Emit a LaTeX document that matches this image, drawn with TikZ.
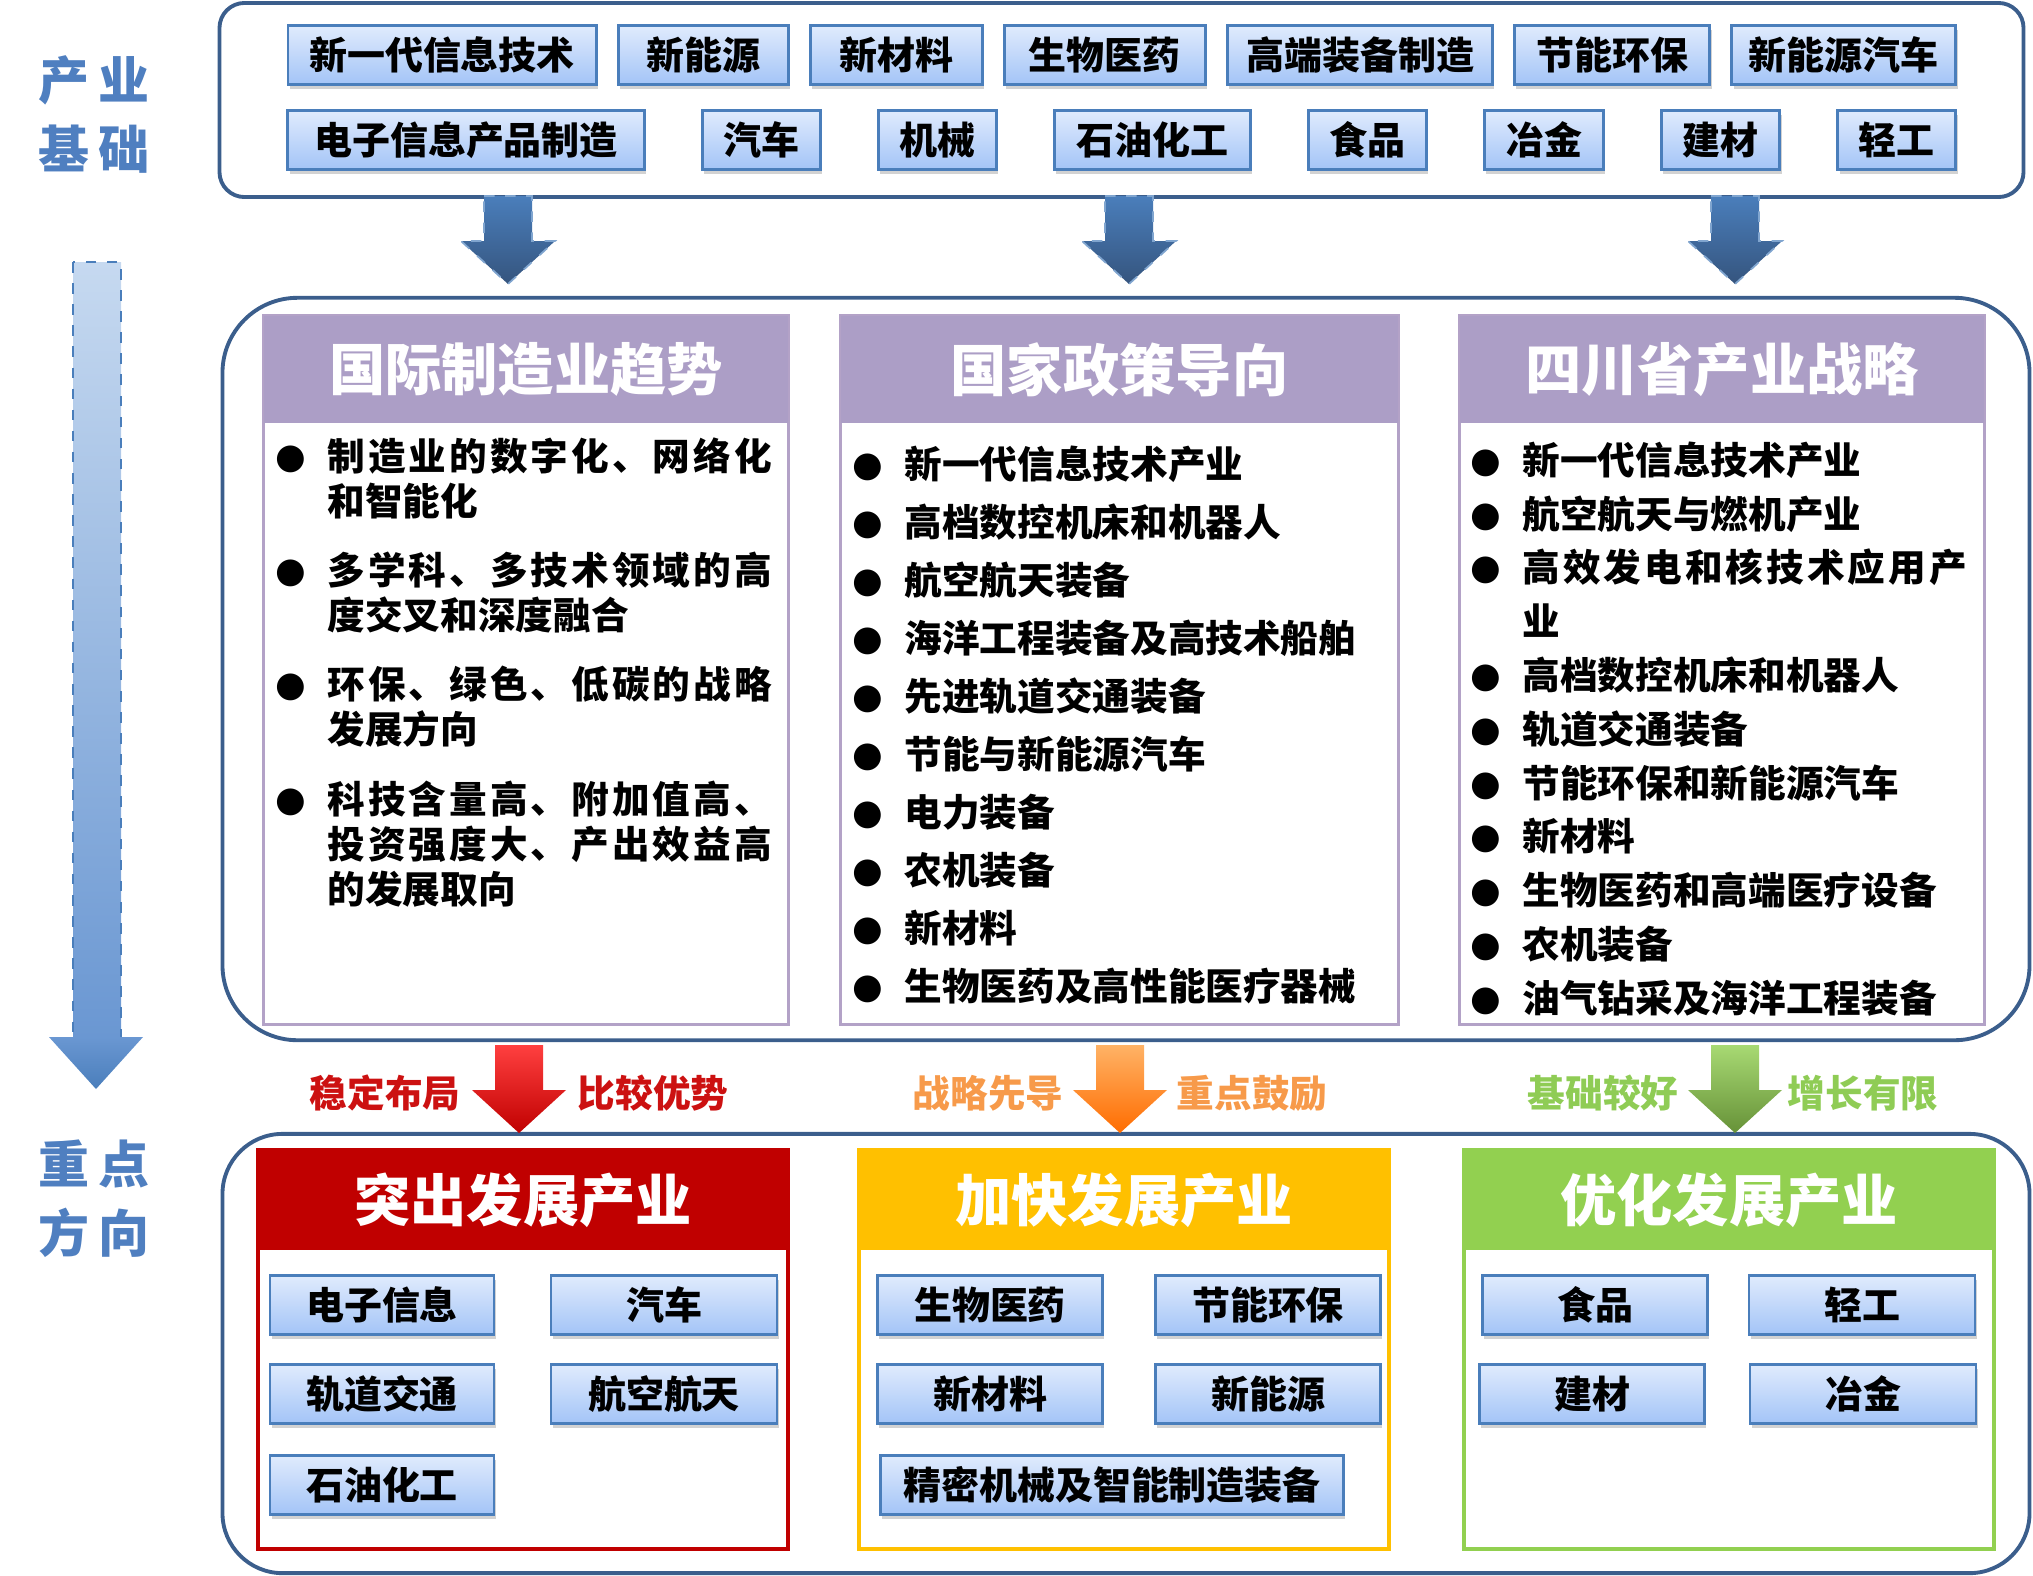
\documentclass[tikz,border=0pt]{standalone}
\usepackage{fontspec}
\usetikzlibrary{positioning, shadows}

\newfontfamily\cjk{Noto Sans CJK SC}
\newfontfamily\dejavu{DejaVu Sans}

\definecolor{frameblue}{HTML}{3B5E8C}
\definecolor{indborder}{HTML}{4A7EBB}
\definecolor{indtop}{HTML}{E0EBFD}
\definecolor{indbot}{HTML}{A3C4F7}
\definecolor{lavhead}{HTML}{AC9EC6}
\definecolor{lavline}{HTML}{B3A2C7}
\definecolor{sideblue}{HTML}{4F7FC0}
\definecolor{redhead}{HTML}{C00000}
\definecolor{goldhead}{HTML}{FFC000}
\definecolor{greenhead}{HTML}{92D050}
\definecolor{redtag}{HTML}{CC1111}
\definecolor{orangetag}{HTML}{F79A4A}
\definecolor{greentag}{HTML}{8FCC55}
\definecolor{shafttop}{HTML}{C6D9F0}
\definecolor{shaftbot}{HTML}{6A97D2}

% bullet hung left of the text, and a stretched (justified) line
\newcommand\bul{\llap{\raisebox{0.6pt}{\dejavu\fontsize{10}{10}\selectfont ●}\hspace{0.22cm}}}
\newcommand\jst[1]{{\addfontfeature{LetterSpace=8}#1}}

\begin{document}
\begin{tikzpicture}[
  x=0.01cm, y=-0.01cm,
  every node/.style={font=\cjk},
  frame/.style={draw=frameblue, line width=1.1pt, fill=white},
  ind/.style={draw=indborder, line width=0.8pt, top color=indtop, bottom color=indbot,
    minimum height=0.59cm, inner sep=0pt, outer sep=0pt, font=\cjk\bfseries\fontsize{10.8}{12}\selectfont,
    drop shadow={opacity=0.35, shadow xshift=0.5pt, shadow yshift=-1.2pt}},
  midcol/.style={draw=lavline, line width=0.8pt, fill=white, minimum width=#1, minimum height=7.08cm},
  midhead/.style={fill=lavhead, minimum width=#1, minimum height=1.07cm, inner sep=0pt,
    text=white, font=\cjk\bfseries\fontsize{16}{18}\selectfont},
  lowcol/.style={draw=#1, line width=1pt, fill=white, minimum width=5.3cm, minimum height=3.99cm},
  lowhead/.style={fill=#1, minimum width=5.3cm, minimum height=1.0cm, inner sep=0pt,
    text=white, font=\cjk\bfseries\fontsize{16}{18}\selectfont},
  items/.style={anchor=north west, align=left, inner sep=0pt,
    font=\cjk\bfseries\fontsize{10.7}{#1}\selectfont},
  side/.style={align=center, text=sideblue, font=\cjk\bfseries\fontsize{14.5}{19.6}\selectfont},
  tag/.style={font=\cjk\bfseries\fontsize{10.7}{12}\selectfont},
  pics/downarrow/.style={code={
    \path[#1] (-24,0) -- (24,0) -- (24,45) -- (47,45) -- (0,88) -- (-47,45) -- (-24,45) -- cycle;
  }},
  bluearrow/.style={top color=indborder, bottom color=frameblue!90!black, draw=indborder!70!white, dashed, line width=0.5pt},
  redarrow/.style={top color=red!75!white, bottom color=redhead},
  orangearrow/.style={top color=orange!60!white, bottom color=orange!85!red},
  greenarrow/.style={top color=greenhead!80!white, bottom color=greenhead!70!black}
]
\useasboundingbox (0,0) rectangle (2033,1575);

% outer frames
\node[frame, rounded corners=0.25cm, minimum width=18.03cm, minimum height=1.94cm] (basebox) at (1121.5,100) {};
\node[frame, rounded corners=0.75cm, minimum width=18.06cm, minimum height=7.42cm] (guidebox) at (1126,669) {};
\node[frame, rounded corners=0.6cm, minimum width=18.06cm, minimum height=4.39cm] (focusbox) at (1126,1353.5) {};

% side labels and the long arrow
\node[side] (baselab) at (94,114) {产\,业\\基\,础};
\node[side] (focuslab) at (94,1199) {重\,点\\方\,向};
\path[top color=shafttop, bottom color=shaftbot, draw=indborder, dashed, line width=0.6pt] (73,262) rectangle (121,1038);
\path[top color=shaftbot, bottom color=indborder] (49,1037) -- (143,1037) -- (96,1089) -- cycle;

% industry base, row 1
\node[ind, minimum width=3.08cm] (nextit) at (442,55) {新一代信息技术};
\node[ind, minimum width=1.70cm, right=0.22cm of nextit] (newenergy) {新能源};
\node[ind, minimum width=1.72cm, right=0.22cm of newenergy] (newmat) {新材料};
\node[ind, minimum width=2.01cm, right=0.22cm of newmat] (biomed) {生物医药};
\node[ind, minimum width=2.65cm, right=0.22cm of biomed] (hiequip) {高端装备制造};
\node[ind, minimum width=1.95cm, right=0.22cm of hiequip] (ecoprot) {节能环保};
\node[ind, minimum width=2.24cm, right=0.22cm of ecoprot] (nev) {新能源汽车};
% industry base, row 2
\node[ind, minimum width=3.56cm] (einfo) at (466,140) {电子信息产品制造};
\node[ind, minimum width=1.18cm, right=0.58cm of einfo] (car) {汽车};
\node[ind, minimum width=1.18cm, right=0.58cm of car] (machine) {机械};
\node[ind, minimum width=1.96cm, right=0.58cm of machine] (petchem) {石油化工};
\node[ind, minimum width=1.18cm, right=0.58cm of petchem] (foodind) {食品};
\node[ind, minimum width=1.19cm, right=0.58cm of foodind] (metall) {冶金};
\node[ind, minimum width=1.18cm, right=0.58cm of metall] (buildmat) {建材};
\node[ind, minimum width=1.18cm, right=0.58cm of buildmat] (lightind) {轻工};

% base -> guidance
\pic at (508,196) {downarrow=bluearrow};
\pic at (1129,196) {downarrow=bluearrow};
\pic at (1735,196) {downarrow=bluearrow};

% three guidance columns
\node[midcol=5.24cm] (trend) at (526,670) {};
\node[midhead=5.24cm] (trendhead) at (526,369.5) {国际制造业趋势};
\node[midcol=5.57cm] (policy) at (1119.5,670) {};
\node[midhead=5.57cm] (policyhead) at (1119.5,369.5) {国家政策导向};
\node[midcol=5.24cm] (sichuan) at (1722,670) {};
\node[midhead=5.24cm] (sichuanhead) at (1722,369.5) {四川省产业战略};

\node[items=12.8pt] (trendlist) at (327,437) {%
  \bul\jst{制造业的数字化、网络化}\\
  和智能化\\[0.24cm]
  \bul\jst{多学科、多技术领域的高}\\
  度交叉和深度融合\\[0.24cm]
  \bul\jst{环保、绿色、低碳的战略}\\
  发展方向\\[0.25cm]
  \bul\jst{科技含量高、附加值高、}\\
  \jst{投资强度大、产出效益高}\\
  的发展取向};
\node[items=16.5pt] (policylist) at (904,445) {%
  \bul 新一代信息技术产业\\
  \bul 高档数控机床和机器人\\
  \bul 航空航天装备\\
  \bul 海洋工程装备及高技术船舶\\
  \bul 先进轨道交通装备\\
  \bul 节能与新能源汽车\\
  \bul 电力装备\\
  \bul 农机装备\\
  \bul 新材料\\
  \bul 生物医药及高性能医疗器械};
\node[items=15.3pt] (sichuanlist) at (1522,441) {%
  \bul 新一代信息技术产业\\
  \bul 航空航天与燃机产业\\
  \bul\jst{高效发电和核技术应用产}\\
  业\\
  \bul 高档数控机床和机器人\\
  \bul 轨道交通装备\\
  \bul 节能环保和新能源汽车\\
  \bul 新材料\\
  \bul 生物医药和高端医疗设备\\
  \bul 农机装备\\
  \bul 油气钻采及海洋工程装备};

% guidance -> focus, with reasons
\pic at (519,1045) {downarrow=redarrow};
\pic at (1120,1045) {downarrow=orangearrow};
\pic at (1735,1045) {downarrow=greenarrow};
\node[tag, text=redtag] (stable) at (385,1093) {稳定布局};
\node[tag, text=redtag] (compare) at (653,1093) {比较优势};
\node[tag, text=orangetag] (strategic) at (988,1093) {战略先导};
\node[tag, text=orangetag] (encourage) at (1252,1093) {重点鼓励};
\node[tag, text=greentag] (solid) at (1603,1093) {基础较好};
\node[tag, text=greentag] (limited) at (1863,1093) {增长有限};

% focus columns
\node[lowcol=redhead] (prominent) at (523,1349.5) {};
\node[lowhead=redhead] (prominenthead) at (523,1200) {突出发展产业};
\node[lowcol=goldhead] (faster) at (1124,1349.5) {};
\node[lowhead=goldhead] (fasterhead) at (1124,1200) {加快发展产业};
\node[lowcol=greenhead] (optimise) at (1729,1349.5) {};
\node[lowhead=greenhead] (optimisehead) at (1729,1200) {优化发展产业};

\node[ind, minimum width=2.24cm] (elec) at (382,1305) {电子信息};
\node[ind, minimum width=2.26cm] (auto) at (664,1305) {汽车};
\node[ind, minimum width=2.24cm] (rail) at (382,1394) {轨道交通};
\node[ind, minimum width=2.26cm] (aero) at (664,1394) {航空航天};
\node[ind, minimum width=2.24cm] (petro) at (382,1485) {石油化工};

\node[ind, minimum width=2.25cm] (bio) at (990,1305) {生物医药};
\node[ind, minimum width=2.25cm] (eco) at (1268,1305) {节能环保};
\node[ind, minimum width=2.25cm] (mat) at (990,1394) {新材料};
\node[ind, minimum width=2.25cm] (energy) at (1268,1394) {新能源};
\node[ind, minimum width=4.63cm] (precision) at (1112,1485) {精密机械及智能制造装备};

\node[ind, minimum width=2.25cm] (food) at (1595,1305) {食品};
\node[ind, minimum width=2.26cm] (light) at (1862,1305) {轻工};
\node[ind, minimum width=2.25cm] (build) at (1592,1394) {建材};
\node[ind, minimum width=2.26cm] (metal) at (1863,1394) {冶金};
\end{tikzpicture}
\end{document}
